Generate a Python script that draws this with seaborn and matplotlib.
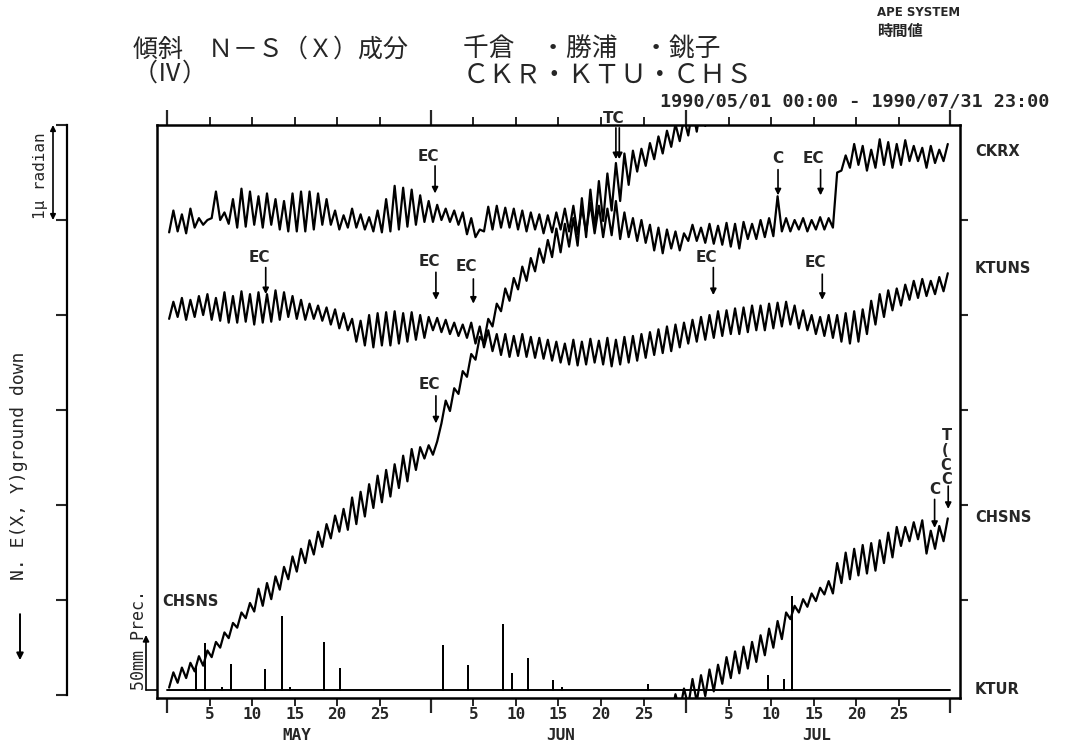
import numpy as np
import pandas as pd
import matplotlib
matplotlib.use("Agg")
import matplotlib.pyplot as plt
import seaborn as sns

# ---------------- data ----------------
# period 1990/05/01 00:00 - 1990/07/31 23:00, x = day index from May 1
month_names = ["MAY", "JUN", "JUL"]
month_start = [0, 31, 61, 92]
day_tick_labels = [5, 10, 15, 20, 25]
days = np.arange(92)
range_span = 6.0          # plotter range (micro-radian) before the trace wraps

# daily trough / crest of each tilt trace (micro-radian, plotter offset)
ckrx_lo = [4.87, 4.88, 4.86, 4.92, 4.95, 5.02, 5.00, 4.96, 4.92, 4.93,
           4.95, 4.92, 4.95, 4.90, 4.88, 4.88, 4.88, 4.90, 4.95, 4.95,
           4.90, 4.92, 4.92, 4.90, 4.88, 4.87, 4.88, 4.90, 4.93, 4.95,
           4.98, 4.98, 5.00, 4.98, 4.95, 4.85, 4.82, 4.88, 4.90, 4.92,
           4.92, 4.90, 4.88, 4.90, 4.86, 4.87, 4.90, 4.88, 4.85, 4.88,
           4.86, 4.82, 4.84, 4.80, 4.82, 4.78, 4.76, 4.68, 4.65, 4.70,
           4.68, 4.78, 4.78, 4.76, 4.75, 4.74, 4.72, 4.70, 4.80, 4.80,
           4.82, 4.83, 4.88, 4.88, 4.90, 4.88, 4.90, 4.90, 4.92, 5.52,
           5.55, 5.58, 5.52, 5.55, 5.58, 5.55, 5.58, 5.62, 5.62, 5.55,
           5.60, 5.62]
ckrx_hi = [5.10, 5.06, 5.12, 5.02, 5.00, 5.30, 5.08, 5.22, 5.33, 5.30,
           5.25, 5.28, 5.22, 5.20, 5.28, 5.30, 5.30, 5.28, 5.22, 5.10,
           5.05, 5.12, 5.06, 5.03, 5.10, 5.22, 5.36, 5.34, 5.32, 5.26,
           5.20, 5.16, 5.12, 5.10, 5.08, 5.02, 4.90, 5.14, 5.15, 5.13,
           5.12, 5.10, 5.08, 5.06, 5.05, 5.08, 5.12, 5.15, 5.12, 5.18,
           5.15, 5.12, 5.20, 5.08, 5.02, 5.00, 4.95, 4.92, 4.90, 4.88,
           4.86, 4.95, 4.92, 4.96, 4.94, 4.97, 4.96, 4.98, 4.96, 5.00,
           5.02, 5.25, 5.02, 5.00, 5.02, 5.00, 5.03, 5.02, 5.50, 5.68,
           5.80, 5.78, 5.74, 5.85, 5.82, 5.80, 5.84, 5.78, 5.76, 5.78,
           5.74, 5.80]

ktuns_lo = [3.96, 3.98, 3.95, 3.98, 4.00, 3.95, 3.94, 3.92, 3.92, 3.93,
            3.90, 3.92, 3.93, 3.95, 3.98, 3.96, 3.95, 3.96, 3.94, 3.90,
            3.86, 3.84, 3.72, 3.68, 3.66, 3.68, 3.68, 3.70, 3.72, 3.74,
            3.76, 3.84, 3.82, 3.80, 3.78, 3.76, 3.70, 3.66, 3.62, 3.58,
            3.56, 3.57, 3.56, 3.55, 3.54, 3.52, 3.50, 3.48, 3.47, 3.48,
            3.50, 3.48, 3.46, 3.48, 3.50, 3.52, 3.55, 3.58, 3.60, 3.62,
            3.66, 3.70, 3.72, 3.74, 3.76, 3.78, 3.80, 3.80, 3.82, 3.84,
            3.84, 3.86, 3.88, 3.90, 3.86, 3.84, 3.80, 3.78, 3.76, 3.72,
            3.70, 3.72, 3.80, 3.90, 3.98, 4.05, 4.10, 4.16, 4.18, 4.20,
            4.22, 4.25]
ktuns_hi = [4.14, 4.18, 4.16, 4.20, 4.22, 4.18, 4.24, 4.20, 4.25, 4.22,
            4.24, 4.22, 4.26, 4.24, 4.20, 4.16, 4.12, 4.10, 4.08, 4.06,
            4.02, 3.96, 3.94, 4.00, 4.02, 4.03, 4.04, 4.02, 4.03, 4.00,
            3.98, 3.97, 3.95, 3.92, 3.90, 3.92, 3.88, 3.84, 3.80, 3.80,
            3.78, 3.80, 3.77, 3.76, 3.74, 3.72, 3.70, 3.74, 3.72, 3.75,
            3.73, 3.76, 3.74, 3.77, 3.78, 3.80, 3.82, 3.85, 3.88, 3.90,
            3.92, 3.95, 3.98, 4.00, 4.04, 4.05, 4.07, 4.08, 4.10, 4.10,
            4.12, 4.13, 4.14, 4.10, 4.05, 4.00, 3.98, 4.00, 4.00, 4.02,
            4.04, 4.06, 4.15, 4.22, 4.26, 4.28, 4.32, 4.36, 4.38, 4.36,
            4.40, 4.44]

chsns_lo = [0.08, 0.13, 0.18, 0.25, 0.31, 0.40, 0.50, 0.60, 0.71, 0.81,
            0.88, 0.94, 1.01, 1.11, 1.22, 1.30, 1.39, 1.48, 1.56, 1.65,
            1.72, 1.74, 1.80, 1.88, 1.97, 2.03, 2.09, 2.18, 2.25, 2.37,
            2.49, 2.53, 2.86, 2.99, 3.17, 3.35, 3.53, 3.72, 3.88, 4.04,
            4.15, 4.27, 4.36, 4.46, 4.55, 4.61, 4.66, 4.72, 4.73, 4.82,
            4.91, 4.99, 5.10, 5.20, 5.37, 5.51, 5.57, 5.64, 5.70, 5.77,
            5.83, 5.89, 5.93, 5.99, 6.04, 6.12, 6.18, 6.23, 6.28, 6.35,
            6.42, 6.50, 6.59, 6.80, 6.87, 6.93, 6.99, 7.06, 7.07, 7.18,
            7.22, 7.26, 7.28, 7.31, 7.39, 7.45, 7.57, 7.62, 7.64, 7.49,
            7.54, 7.62]
chsns_hi = [0.24, 0.29, 0.34, 0.41, 0.47, 0.56, 0.66, 0.76, 0.87, 0.97,
            1.12, 1.18, 1.25, 1.35, 1.46, 1.54, 1.63, 1.72, 1.80, 1.89,
            1.96, 2.08, 2.14, 2.22, 2.31, 2.37, 2.43, 2.52, 2.59, 2.61,
            2.63, 2.67, 3.10, 3.23, 3.41, 3.59, 3.77, 3.96, 4.12, 4.28,
            4.39, 4.51, 4.60, 4.70, 4.79, 4.91, 4.96, 5.02, 5.23, 5.32,
            5.41, 5.49, 5.60, 5.70, 5.73, 5.75, 5.81, 5.88, 5.94, 6.01,
            6.07, 6.17, 6.21, 6.27, 6.32, 6.40, 6.46, 6.51, 6.56, 6.63,
            6.70, 6.78, 6.87, 6.94, 7.01, 7.07, 7.13, 7.20, 7.39, 7.50,
            7.54, 7.58, 7.60, 7.63, 7.71, 7.77, 7.77, 7.82, 7.84, 7.73,
            7.78, 7.86]

# KTUR precipitation events (day, mm)
ktur_day = [3.4, 4.5, 6.5, 7.5, 11.5, 13.5, 14.5, 18.4, 20.3, 32.4,
            35.4, 39.5, 40.5, 42.4, 45.4, 46.4, 56.5, 70.6, 72.5, 73.5]
ktur_mm = [20, 42, 2, 23, 18, 66, 2, 43, 19, 40,
           22, 59, 15, 28, 8, 2, 5, 13, 9, 85]

# event marks: label, day, label level, arrow start, arrow tip
events = [("EC", 31.5, 5.67, 5.57, 5.28),
          ("EC", 11.6, 4.61, 4.50, 4.22),
          ("EC", 31.6, 4.56, 4.45, 4.16),
          ("EC", 36.0, 4.51, 4.38, 4.12),
          ("EC", 31.6, 3.27, 3.15, 2.86),
          ("C", 71.8, 5.65, 5.53, 5.26),
          ("EC", 76.8, 5.65, 5.53, 5.26),
          ("EC", 64.2, 4.61, 4.50, 4.21),
          ("EC", 77.0, 4.55, 4.43, 4.16),
          ("C", 90.2, 2.16, 2.06, 1.76)]

# ---------------- style ----------------
sns.set_theme(style="white", rc={"axes.linewidth": 1.8, "axes.edgecolor": "black"})
plt.rcParams["font.family"] = ["DejaVu Sans", "Noto Sans CJK JP"]
JP = ["Noto Sans CJK JP", "DejaVu Sans"]
MONO = ["DejaVu Sans Mono", "DejaVu Sans"]

W, H = 1065, 751
fig = plt.figure(figsize=(W / 100, H / 100), dpi=100)
fig.patch.set_facecolor("white")


def fx(px):
    return px / W


def fy(py):
    return 1 - py / H


AX_L, AX_R, AX_T, AX_B = 157, 960, 125, 698
X0PX, PXD = 167, 8.51
ax = fig.add_axes([fx(AX_L), fy(AX_B), fx(AX_R) - fx(AX_L), fy(AX_T) - fy(AX_B)])
ax.set_facecolor("white")


def half_day(lo, hi):
    t = np.repeat(days, 2) + np.tile([0.25, 0.75], len(days))
    v = np.column_stack([lo, hi]).ravel()
    return t, v


frames = []
for name, lo, hi in [("CKRX", ckrx_lo, ckrx_hi), ("KTUNS", ktuns_lo, ktuns_hi),
                     ("CHSNS", chsns_lo, chsns_hi)]:
    t, v = half_day(lo, hi)
    frames.append(pd.DataFrame({"day": t, "tilt": v, "trace": name}))
    if name == "CHSNS":
        frames.append(pd.DataFrame({"day": t, "tilt": v - range_span, "trace": "CHSNS wrap"}))
df = pd.concat(frames, ignore_index=True)

sns.lineplot(data=df, x="day", y="tilt", units="trace", estimator=None,
             color="black", lw=1.6, ax=ax, legend=False)

xlim = ((AX_L - X0PX) / PXD, (AX_R - X0PX) / PXD)
ylim = (-0.03, range_span)
ax.set_xlim(*xlim)
ax.set_ylim(*ylim)
ax.set_xlabel("")
ax.set_ylabel("")

# precipitation on its own scale
ax2 = ax.twinx()
mm_per_px = 50 / 55.0
ax2.set_ylim(-(AX_B - 690) * mm_per_px, (690 - AX_T) * mm_per_px)
ax2.set_xlim(*xlim)
order = np.argsort(ktur_day)
pr_x, pr_y = [month_start[0]], [0.0]
for i in order:
    pr_x += [ktur_day[i]] * 3
    pr_y += [0.0, ktur_mm[i], 0.0]
pr_x.append(month_start[-1])
pr_y.append(0.0)
sns.lineplot(x=pr_x, y=pr_y, sort=False, estimator=None, color="black", lw=1.4, ax=ax2)
ax2.axis("off")

# 50 mm scale mark
xs = (146 - X0PX) / PXD
ax2.annotate("", xy=(xs, 50), xytext=(xs, 0),
             arrowprops=dict(arrowstyle="-|>", lw=1.2, color="black", mutation_scale=9,
                             shrinkA=0, shrinkB=0), annotation_clip=False)
ax2.plot([xs, xlim[0]], [0, 0], color="black", lw=1.2, clip_on=False)

# ticks
ax.yaxis.set_ticks_position("right")
ax.set_yticks([1, 2, 3, 4, 5])
ax.tick_params(axis="y", which="major", direction="out", length=6, width=1.5,
               right=True, left=False, labelright=False, labelleft=False)
ax.set_xticks(month_start)
ax.set_xticklabels([""] * len(month_start))
minor_pos, minor_lab = [], []
for ms in month_start[:-1]:
    for d in day_tick_labels:
        minor_pos.append(ms + d)
        minor_lab.append(str(d))
ax.set_xticks(minor_pos, minor_lab, minor=True)
ax.tick_params(axis="x", which="major", direction="out", length=11, width=1.6,
               top=True, bottom=True)
ax.tick_params(axis="x", which="minor", direction="out", length=5.5, width=1.4,
               top=True, bottom=True, labelsize=11.5, pad=1.0)
for lbl in ax.get_xticklabels(minor=True):
    lbl.set_fontfamily(MONO)
    lbl.set_fontweight("bold")
for s in ax.spines.values():
    s.set_linewidth(1.8)
    s.set_color("black")

for ms, name in zip(month_start[:-1], month_names):
    ax.text(ms + 15.3, (AX_B - 728) / (AX_B - AX_T), name,
            transform=ax.get_xaxis_transform(),
            ha="center", va="top", fontsize=11.5, fontweight="bold", family=MONO)

# event arrows
arrow_kw = dict(arrowstyle="-|>", lw=1.2, color="black", mutation_scale=9,
                shrinkA=0, shrinkB=0)
for lab, d, ty, a0, a1 in events:
    ax.annotate("", xy=(d, a1), xytext=(d, a0), arrowprops=arrow_kw)
    off = -0.8 if lab == "EC" else 0.0
    ax.text(d + off, ty, lab, ha="center", va="center", fontsize=11,
            fontweight="bold")

# TC double arrow at the top
for dd in (52.75, 53.15):
    ax.annotate("", xy=(dd, 5.64), xytext=(dd, 5.97), arrowprops=arrow_kw,
                annotation_clip=False)
ax.text(52.5, 6.07, "TC", ha="center", va="center", fontsize=11,
        fontweight="bold", clip_on=False)

# stacked marks at the end of CHSNS
ax.text(91.7, 2.73, "T", ha="center", va="center", fontsize=10.5, fontweight="bold")
ax.text(91.4, 2.57, "(", ha="center", va="center", fontsize=10.5, fontweight="bold")
ax.text(91.5, 2.42, "C", ha="center", va="center", fontsize=10.5, fontweight="bold")
ax.text(91.6, 2.27, "C", ha="center", va="center", fontsize=10.5, fontweight="bold")
ax.annotate("", xy=(91.8, 1.96), xytext=(91.8, 2.20), arrowprops=arrow_kw)

# ---------------- left bracket scale ----------------
axl = fig.add_axes([fx(20), fy(AX_B), fx(67) - fx(20), fy(AX_T) - fy(AX_B)])
axl.patch.set_alpha(0)
axl.set_xlim(0, 1)
axl.set_ylim(*ylim)
for k in ("left", "top", "bottom"):
    axl.spines[k].set_visible(False)
axl.spines["right"].set_bounds(0, range_span)
axl.spines["right"].set_linewidth(1.6)
axl.yaxis.set_ticks_position("right")
axl.set_yticks(np.arange(0, range_span + 1))
axl.tick_params(axis="y", direction="in", length=8, width=1.5, labelright=False,
                labelleft=False, right=True, left=False)
axl.set_xticks([])
xa = (53 - 20) / 47
axl.annotate("", xy=(xa, 6.0), xytext=(xa, 5.0),
             arrowprops=dict(arrowstyle="<|-|>", lw=1.2, color="black",
                             mutation_scale=8, shrinkA=0, shrinkB=0))
xd = (20 - 20) / 47
axl.annotate("", xy=(xd, (695 - 660) / 95), xytext=(xd, (695 - 614) / 95),
             arrowprops=dict(arrowstyle="-|>", lw=1.4, color="black",
                             mutation_scale=10, shrinkA=0, shrinkB=0),
             annotation_clip=False)

fig.text(fx(40), fy(176), "1μ radian", rotation=90, ha="center", va="center",
         fontsize=11.5, family=MONO)
fig.text(fx(19), fy(466), "N. E(X, Y)ground down", rotation=90, ha="center",
         va="center", fontsize=13, family=MONO)
fig.text(fx(139), fy(690), "50mm Prec.", rotation=90, ha="center", va="bottom",
         fontsize=12, family=MONO)

# ---------------- labels ----------------
for name, py in [("CKRX", 152), ("KTUNS", 268), ("CHSNS", 517), ("KTUR", 690)]:
    fig.text(fx(975), fy(py), name, ha="left", va="center", fontsize=10.5,
             fontweight="bold")
fig.text(fx(162), fy(601), "CHSNS", ha="left", va="center", fontsize=10.5,
         fontweight="bold")

fig.text(fx(133), fy(50), "傾斜　Ｎ－Ｓ（Ｘ）成分", ha="left", va="center",
         fontsize=18, family=JP)
fig.text(fx(133), fy(74), "（Ⅳ）", ha="left", va="center", fontsize=18, family=JP)
fig.text(fx(463), fy(50), "千倉　・勝浦　・銚子", ha="left", va="center",
         fontsize=18.5, family=JP)
fig.text(fx(463), fy(75), "ＣＫＲ・ＫＴＵ・ＣＨＳ", ha="left", va="center",
         fontsize=19, family=JP)
fig.text(fx(877), fy(12), "APE SYSTEM", ha="left", va="center", fontsize=8.5,
         fontweight="bold")
fig.text(fx(877), fy(31), "時間値", ha="left", va="center", fontsize=11,
         fontweight="bold", family=JP)
fig.text(fx(660), fy(101), "1990/05/01 00:00 - 1990/07/31 23:00", ha="left",
         va="center", fontsize=13.3, fontweight="bold", family=MONO)

fig.savefig("out.png", dpi=100, facecolor="white")
